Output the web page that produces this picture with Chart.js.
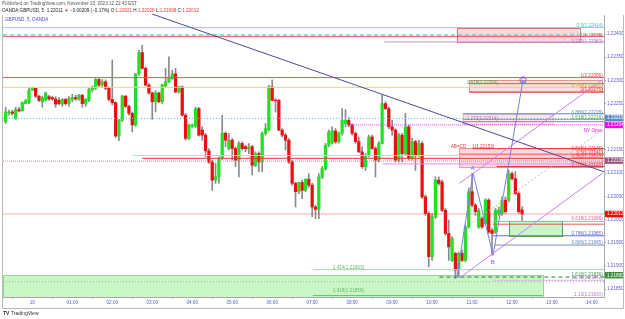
<!DOCTYPE html>
<html><head><meta charset="utf-8">
<script src="https://cdn.jsdelivr.net/npm/chart.js@4.4.0/dist/chart.umd.min.js"></script>
<style>html,body{margin:0;padding:0;background:#fff}canvas{display:block}</style>
</head><body>
<canvas id="c" width="625" height="319"></canvas>
<script>
// ---- DATA ----
// 5-minute candles, first one at 23:20 (minutes relative to 00:00, Nov 10)
const candleStart = -40, candleStep = 5;
const opens = [1.22211,1.22230,1.22232,1.22218,1.22237,1.22234,1.22250,1.22252,1.22279,1.22283,1.22266,1.22254,1.22257,1.22265,1.22263,1.22260,1.22257,1.22249,1.22259,1.22250,1.22259,1.22263,1.22260,1.22268,1.22250,1.22257,1.22279,1.22283,1.22302,1.22290,1.22297,1.22283,1.22259,1.22252,1.22180,1.22214,1.22266,1.22244,1.22229,1.22204,1.22314,1.22360,1.22326,1.22290,1.22273,1.22254,1.22273,1.22254,1.22288,1.22297,1.22304,1.22314,1.22275,1.22286,1.22225,1.22175,1.22201,1.22201,1.22239,1.22193,1.22182,1.22148,1.22124,1.22085,1.22092,1.22132,1.22186,1.22153,1.22171,1.22153,1.22128,1.22164,1.22157,1.22153,1.22157,1.22117,1.22142,1.22124,1.22186,1.22193,1.22286,1.22257,1.22257,1.22193,1.22182,1.22171,1.22124,1.22078,1.22060,1.22080,1.22063,1.22087,1.22074,1.22027,1.22022,1.22092,1.22110,1.22160,1.22165,1.22191,1.22168,1.22186,1.22207,1.22214,1.22204,1.22186,1.22168,1.22146,1.22114,1.22139,1.22178,1.22153,1.22128,1.22164,1.22250,1.22239,1.22200,1.22193,1.22128,1.22182,1.22142,1.22200,1.22132,1.22168,1.22139,1.22164,1.22049,1.22013,1.21920,1.22006,1.22085,1.22081,1.22020,1.21970,1.21912,1.21927,1.21894,1.21927,1.21912,1.21984,1.22060,1.22031,1.21984,1.22002,1.21991,1.22042,1.21977,1.21973,1.22013,1.22013,1.22042,1.22042,1.22099,1.22088,1.22056,1.22021];
const highs = [1.22242,1.22236,1.22236,1.22242,1.22242,1.22254,1.22259,1.22284,1.22286,1.22284,1.22268,1.22266,1.22275,1.22268,1.22266,1.22265,1.22263,1.22261,1.22261,1.22265,1.22270,1.22268,1.22270,1.22270,1.22261,1.22283,1.22288,1.22304,1.22304,1.22302,1.22301,1.22286,1.22344,1.22254,1.22216,1.22268,1.22268,1.22247,1.22232,1.22315,1.22365,1.22376,1.22329,1.22293,1.22275,1.22278,1.22275,1.22292,1.22326,1.22351,1.22322,1.22326,1.22288,1.22288,1.22229,1.22206,1.22206,1.22242,1.22242,1.22200,1.22186,1.22153,1.22128,1.22121,1.22135,1.22225,1.22189,1.22186,1.22175,1.22157,1.22168,1.22168,1.22160,1.22164,1.22160,1.22146,1.22146,1.22189,1.22207,1.22290,1.22301,1.22261,1.22259,1.22196,1.22186,1.22175,1.22128,1.22081,1.22081,1.22085,1.22088,1.22099,1.22078,1.22031,1.22099,1.22114,1.22164,1.22193,1.22200,1.22196,1.22189,1.22239,1.22237,1.22220,1.22207,1.22189,1.22178,1.22157,1.22142,1.22182,1.22182,1.22157,1.22168,1.22268,1.22254,1.22243,1.22214,1.22196,1.22186,1.22186,1.22229,1.22204,1.22175,1.22171,1.22171,1.22168,1.22053,1.22017,1.22013,1.22092,1.22092,1.22085,1.22024,1.21999,1.21963,1.21930,1.21930,1.21934,1.21988,1.22068,1.22099,1.22035,1.22024,1.22006,1.22045,1.22045,1.21981,1.22024,1.22027,1.22049,1.22049,1.22106,1.22103,1.22103,1.22060,1.22028];
const lows = [1.22207,1.22225,1.22225,1.22216,1.22232,1.22236,1.22249,1.22250,1.22278,1.22263,1.22254,1.22242,1.22256,1.22257,1.22257,1.22242,1.22247,1.22244,1.22247,1.22244,1.22254,1.22257,1.22257,1.22242,1.22244,1.22254,1.22275,1.22280,1.22286,1.22286,1.22280,1.22256,1.22247,1.22177,1.22170,1.22211,1.22242,1.22225,1.22189,1.22201,1.22311,1.22324,1.22288,1.22270,1.22216,1.22232,1.22252,1.22250,1.22286,1.22295,1.22302,1.22273,1.22273,1.22223,1.22171,1.22173,1.22198,1.22198,1.22180,1.22171,1.22135,1.22121,1.22063,1.22078,1.22078,1.22129,1.22157,1.22150,1.22128,1.22114,1.22092,1.22150,1.22146,1.22142,1.22096,1.22114,1.22103,1.22103,1.22182,1.22191,1.22256,1.22232,1.22191,1.22178,1.22150,1.22121,1.22074,1.22027,1.22056,1.22045,1.22060,1.22070,1.22006,1.22002,1.22002,1.22088,1.22106,1.22157,1.22163,1.22164,1.22165,1.22182,1.22200,1.22200,1.22182,1.22164,1.22144,1.22110,1.22106,1.22135,1.22151,1.22092,1.22124,1.22163,1.22237,1.22196,1.22182,1.22124,1.22124,1.22124,1.22139,1.22128,1.22128,1.22106,1.22135,1.22045,1.22009,1.21898,1.21912,1.22002,1.22074,1.22017,1.21966,1.21912,1.21909,1.21873,1.21876,1.21909,1.21909,1.21981,1.22027,1.22009,1.21981,1.21981,1.21988,1.21970,1.21923,1.21970,1.22009,1.22009,1.22013,1.22038,1.22085,1.22053,1.22013,1.21998];
const closes = [1.22232,1.22232,1.22229,1.22237,1.22234,1.22252,1.22256,1.22279,1.22283,1.22266,1.22257,1.22263,1.22273,1.22260,1.22260,1.22249,1.22250,1.22259,1.22250,1.22261,1.22263,1.22260,1.22268,1.22250,1.22259,1.22280,1.22286,1.22302,1.22290,1.22297,1.22283,1.22259,1.22252,1.22180,1.22214,1.22266,1.22244,1.22229,1.22204,1.22314,1.22360,1.22326,1.22290,1.22273,1.22254,1.22273,1.22254,1.22290,1.22297,1.22306,1.22314,1.22275,1.22286,1.22225,1.22175,1.22204,1.22204,1.22239,1.22182,1.22182,1.22148,1.22124,1.22085,1.22092,1.22132,1.22186,1.22171,1.22171,1.22153,1.22128,1.22164,1.22153,1.22153,1.22157,1.22117,1.22142,1.22124,1.22186,1.22196,1.22286,1.22257,1.22256,1.22193,1.22182,1.22171,1.22124,1.22078,1.22060,1.22080,1.22063,1.22087,1.22074,1.22027,1.22022,1.22092,1.22110,1.22160,1.22189,1.22191,1.22168,1.22186,1.22214,1.22214,1.22204,1.22186,1.22168,1.22146,1.22114,1.22139,1.22178,1.22153,1.22128,1.22164,1.22250,1.22239,1.22200,1.22193,1.22128,1.22182,1.22142,1.22200,1.22132,1.22168,1.22139,1.22164,1.22049,1.22013,1.21920,1.22006,1.22085,1.22078,1.22020,1.21970,1.21941,1.21959,1.21891,1.21927,1.21912,1.21984,1.22060,1.22031,1.22017,1.22020,1.21984,1.22042,1.21973,1.21970,1.22020,1.22020,1.22042,1.22017,1.22099,1.22088,1.22056,1.22017,1.22012];

// axis ticks
const yTicks = [1.2185,1.219,1.2195,1.22,1.2205,1.221,1.2215,1.222,1.2225,1.223,1.2235,1.224];
const xTicks = [0,60,120,180,240,300,360,420,480,540,600,660,720,780,840];
const xTickLabels = ["10","01:00","02:00","03:00","04:00","05:00","06:00","07:00","08:00","09:00","10:00","11:00","12:00","13:00","14:00"];
const xMin = -44, xMax = 858, yMin = 1.21833, yMax = 1.22441;

// horizontal level lines: price, from (min), to (min)
const levelPrices = [1.22414,1.22398,1.22395,1.22383,1.22306,1.22293,1.22285,1.22275,1.22228,1.22218,1.22216,1.22211,1.22204,1.22153,1.22141,1.22138,1.22132,1.22126,1.22120,1.22114,1.22012,1.21996,1.21990,1.21965,1.21945,1.21892,1.21876,1.21869,1.21866,1.21836];
const levelFrom   = [-44,-44,-44,528,-44,656,-44,656,646,-44,646,646,480,661,641,150,165,-44,526,697,-44,691,691,691,694,421,611,691,-44,421];
const levelTo     = [858,858,858,858,858,858,858,858,858,858,858,858,858,858,858,858,858,858,858,858,858,858,858,858,858,858,858,858,858,766];
const levelStyle = [
 ['#80deea',1,[]],['#26c6da',1,[4,3]],['#ef5350',1,[]],['#ce93d8',1,[]],['#ef5350',1,[]],['#43a047',1,[]],
 ['#ffcc80',1,[]],['#e53935',1,[]],['#5c85c6',1,[]],['#64b5f6',1,[1,2]],['#66bb6a',1,[]],['#b06ad8',1,[]],
 ['#ff33ff',1,[1,1]],['#e53935',1,[]],['#ef5350',1,[]],['#b2dfdb',1,[]],['#e53935',1,[]],['#c48b98',1,[1,1]],
 ['#ff80ff',1,[]],['#c62828',1,[]],['rgba(244,67,54,0.45)',1,[]],['#f48fb1',1,[]],['#ef5350',1,[]],['#6a6ae0',1,[]],
 ['#7890b0',1,[]],['#a5d6a7',1,[]],['#2e7d32',1,[4,3]],['#d7b5f0',1,[]],['#aaaaaa',1,[1,2]],['#66bb6a',1,[]]
];

// zones: from, to (min), top, bottom (price)
const zoneFrom = [637,656,646,641,716,-44];
const zoneTo   = [821,856,781,856,796,766];
const zoneTop  = [1.22414,1.22301,1.22227,1.22154,1.21997,1.21880];
const zoneBot  = [1.22383,1.22275,1.22206,1.22113,1.21964,1.21833];
const zoneStyle = [
 ['rgba(239,83,80,0.22)','rgba(160,60,60,0.6)'],['rgba(239,83,80,0.2)','rgba(200,80,80,0.5)'],
 ['rgba(239,83,80,0.15)','rgba(200,120,120,0.4)'],['rgba(239,83,80,0.22)','rgba(200,80,80,0.5)'],
 ['rgba(120,230,120,0.4)','#4caf50'],['#c8f7c5','#8fd88f']
];

// trend lines: [min, price] pairs
const trendNavy   = [[180,1.22443],[858,1.22103]];
const channelHigh = [[641,1.22078],[856,1.22302]];
const channelLow  = [[641,1.21874],[856,1.22100]];
const dottedGuide = [[661,1.21994],[856,1.22193]];
const abcdPath    = [[637,1.21874],[661.5,1.22100],[691.5,1.21923],[736.5,1.22301]];

// text labels: text, minute, price, align, color
const labels = [
 ['0.5(1.22414)',856,1.22418,'right','#4fb3bf'],
 ['1(1.22395)',856,1.22397,'right','#e53935'],
 ['1.272(1.22383)',856,1.22383,'right','#a96cc0'],
 ['1(1.22306)',856,1.22309,'right','#e53935'],
 ['0.786(1.22285)',856,1.22288,'right','#e0a040'],
 ['2(1.22275)',856,1.22279,'right','#e53935'],
 ['0.886(1.22228)',856,1.22231,'right','#5c85c6'],
 ['1.618(1.22216)',856,1.22219,'right','#43a047'],
 ['NY Open',856,1.22191,'right','#ff00ff'],
 ['0.618(1.22145)',856,1.22152,'right','#e53935'],
 ['0.5(1.22141)',856,1.22143,'right','#e53935'],
 ['0.382(1.22133)',856,1.22135,'right','#e53935'],
 ['0.786(1.22120)',856,1.22119,'right','#e53935'],
 ['0.618(1.21996)',856,1.22001,'right','#f06292'],
 ['0.786(1.21965)',856,1.21970,'right','#5c5cd0'],
 ['0.886(1.21945)',856,1.21950,'right','#5c85c6'],
 ['1.618(1.21878)',856,1.21882,'right','#43a047'],
 ['1.272(1.21872)',856,1.21874,'right','#b07cd0'],
 ['1.13(1.21830)',856,1.21837,'right','#b07cd0'],
 ['1.618(1.22293)',652,1.22296,'left','#43a047'],
 ['1.272(1.22214)',652,1.22218,'left','#b06ad8'],
 ['AB=CD',628,1.22156,'left','#e53935'],
 ['1(1.22153)',660,1.22156,'left','#e53935'],
 ['1.414(1.21893)',451,1.21897,'left','#66bb6a'],
 ['1.618(1.21858)',451,1.21846,'left','#66bb6a'],
 ['A',661,1.22111,'center','#6a6ae0'],
 ['B',691,1.21908,'center','#6a6ae0'],
 ['C',736.5,1.22301,'center','#6a6ae0']
];

// price tags on the axis: text, price, bg
const tags = [
 ['1.22219',1.22219,'#5b8ac6'],['1.22204',1.22204,'#ff00ff'],['1.22138',1.22127,'#9c4f7a'],
 ['1.22012',1.22012,'#ff0000'],['1.21880',1.21880,'#3c8c3c']
];

// ---- BUILD ----
const candleTimes = opens.map((_, i) => candleStart + i * candleStep);
const upColor = '#22e022', downColor = '#e81010';
const candleCols = opens.map((o, i) => closes[i] >= o ? upColor : downColor);
const FONT = 'Liberation Sans, Arial, sans-serif';

const datasets = [];
levelPrices.forEach((p, i) => {
  datasets.push({type:'line', data:[{x:levelFrom[i],y:p},{x:levelTo[i],y:p}], borderColor:levelStyle[i][0],
    borderWidth:levelStyle[i][1], borderDash:levelStyle[i][2], pointRadius:0, order:1});
});
function lineDS(pts, color, dash, clip) {
  return {type:'line', data:pts.map(p => ({x:p[0], y:p[1]})), borderColor:color, borderWidth:1,
    borderDash:dash||[], pointRadius:0, order:0, clip: clip === false ? false : undefined};
}
datasets.push(lineDS(trendNavy, '#4a4a96', [], false));
datasets.push(lineDS(channelHigh, '#c77dff'));
datasets.push(lineDS(channelLow, '#c77dff'));
datasets.push(lineDS(dottedGuide, '#bbbbbb', [2,2]));
datasets.push(lineDS(abcdPath, '#7b7be6'));
datasets.push({type:'bar', data:candleTimes.map((t, i) => ({x:t, y:[lows[i], highs[i]]})), backgroundColor:'#8a8a8a',
  barThickness:1, grouped:false, order:6});
datasets.push({type:'bar', data:candleTimes.map((t, i) => ({x:t, y:[opens[i], closes[i]]})), backgroundColor:candleCols,
  barThickness:2.6, grouped:false, minBarLength:0.6, order:5});

const drawPlugin = {
  id:'tv',
  beforeDatasetsDraw(chart) {
    const {ctx, scales:{x, y}, chartArea:a} = chart;
    ctx.save();
    ctx.beginPath(); ctx.rect(a.left, a.top, a.right - a.left, a.bottom - a.top); ctx.clip();
    zoneTop.forEach((t, i) => {
      const x0 = x.getPixelForValue(zoneFrom[i]), x1 = x.getPixelForValue(zoneTo[i]);
      const y0 = y.getPixelForValue(t), y1 = y.getPixelForValue(zoneBot[i]);
      ctx.fillStyle = zoneStyle[i][0]; ctx.fillRect(x0, y0, x1 - x0, y1 - y0);
      ctx.strokeStyle = zoneStyle[i][1]; ctx.lineWidth = 1;
      ctx.strokeRect(Math.round(x0) + 0.5, Math.round(y0) + 0.5, Math.round(x1 - x0), Math.round(y1 - y0));
    });
    ctx.restore();
  },
  afterDraw(chart) {
    const {ctx, scales:{x, y}, chartArea:a} = chart;
    ctx.save();
    ctx.font = '4.6px ' + FONT; ctx.textBaseline = 'middle';
    labels.forEach(l => {
      ctx.fillStyle = l[4]; ctx.textAlign = l[3];
      const px = x.getPixelForValue(l[1]), py = y.getPixelForValue(l[2]);
      if (l[0].length === 1) {
        ctx.font = '6px ' + FONT;
        if (l[0] === 'C') { ctx.strokeStyle = l[4]; ctx.beginPath(); ctx.arc(px, py, 3.2, 0, Math.PI * 2); ctx.stroke(); }
        ctx.fillText(l[0], px, py + 0.3);
        ctx.font = '4.6px ' + FONT;
      } else ctx.fillText(l[0], px, py);
    });
    ctx.font = '4.6px ' + FONT; ctx.textAlign = 'left';
    tags.forEach(t => {
      const py = y.getPixelForValue(t[1]);
      ctx.fillStyle = t[2]; ctx.fillRect(a.right + 1, py - 3.2, 19, 6.4);
      ctx.fillStyle = '#fff'; ctx.fillText(t[0], a.right + 3, py + 0.2);
    });
    // frame: left, right, bottom edges
    ctx.strokeStyle = '#b8b8b8'; ctx.lineWidth = 1;
    ctx.beginPath();
    ctx.moveTo(2.5, a.top); ctx.lineTo(2.5, 308.5); ctx.lineTo(623.5, 308.5); ctx.lineTo(623.5, a.top);
    ctx.stroke();
    ctx.textAlign = 'left'; ctx.textBaseline = 'middle';
    ctx.font = '4.6px ' + FONT; ctx.fillStyle = '#555';
    ctx.fillText('Published on TradingView.com, November 10, 2023 12:22:43 EST', 2, 4);
    let hx = 2;
    const parts = [['OANDA:GBPUSD, 5  ','#222'],['1.22011 ','#222'],['\u25BC ','#e53935'],['\u22120.00209 (\u22120.17%) ','#222'],
      ['O:','#222'],['1.22021 ','#e53935'],['H:','#222'],['1.22028 ','#e53935'],['L:','#222'],['1.21998 ','#e53935'],['C:','#222'],['1.22012','#e53935']];
    parts.forEach(p => { ctx.fillStyle = p[1]; ctx.fillText(p[0], hx, 10.5); hx += ctx.measureText(p[0]).width; });
    ctx.fillStyle = '#4a4ad0';
    ctx.fillText('GBPUSD, 5, OANDA', 5, 19.5);
    ctx.font = 'bold 5px ' + FONT; ctx.fillStyle = '#333';
    ctx.fillText('TV', 3, 313.5);
    ctx.font = '5px ' + FONT;
    ctx.fillText('TradingView', 11, 313.5);
    ctx.restore();
  }
};

new Chart(document.getElementById('c'), {
  type:'bar',
  data:{datasets},
  options:{
    responsive:false, animation:false, devicePixelRatio:1,
    layout:{padding:{top:15, left:3, right:1, bottom:11}},
    plugins:{legend:{display:false}, tooltip:{enabled:false}},
    scales:{
      x:{type:'linear', min:xMin, max:xMax, offset:false,
        afterBuildTicks:s => { s.ticks = xTicks.map(v => ({value:v})); },
        ticks:{callback:(v) => xTickLabels[xTicks.indexOf(v)], font:{size:4.6, family:FONT}, color:'#5b5bd6', maxRotation:0, autoSkip:false, padding:1},
        grid:{drawOnChartArea:false, tickLength:2, color:'#aaa'}, border:{color:'#aaa'},
        afterFit:s => { s.height = 11; }},
      y:{position:'right', min:yMin, max:yMax,
        afterBuildTicks:s => { s.ticks = yTicks.map(v => ({value:v})); },
        ticks:{callback:(v) => v.toFixed(5), font:{size:4.6, family:FONT}, color:'#5b5bd6', padding:1},
        grid:{drawOnChartArea:false, tickLength:2, color:'#aaa'}, border:{color:'#aaa'},
        afterFit:s => { s.width = 20; }}
    }
  },
  plugins:[drawPlugin]
});
</script>
</body></html>
